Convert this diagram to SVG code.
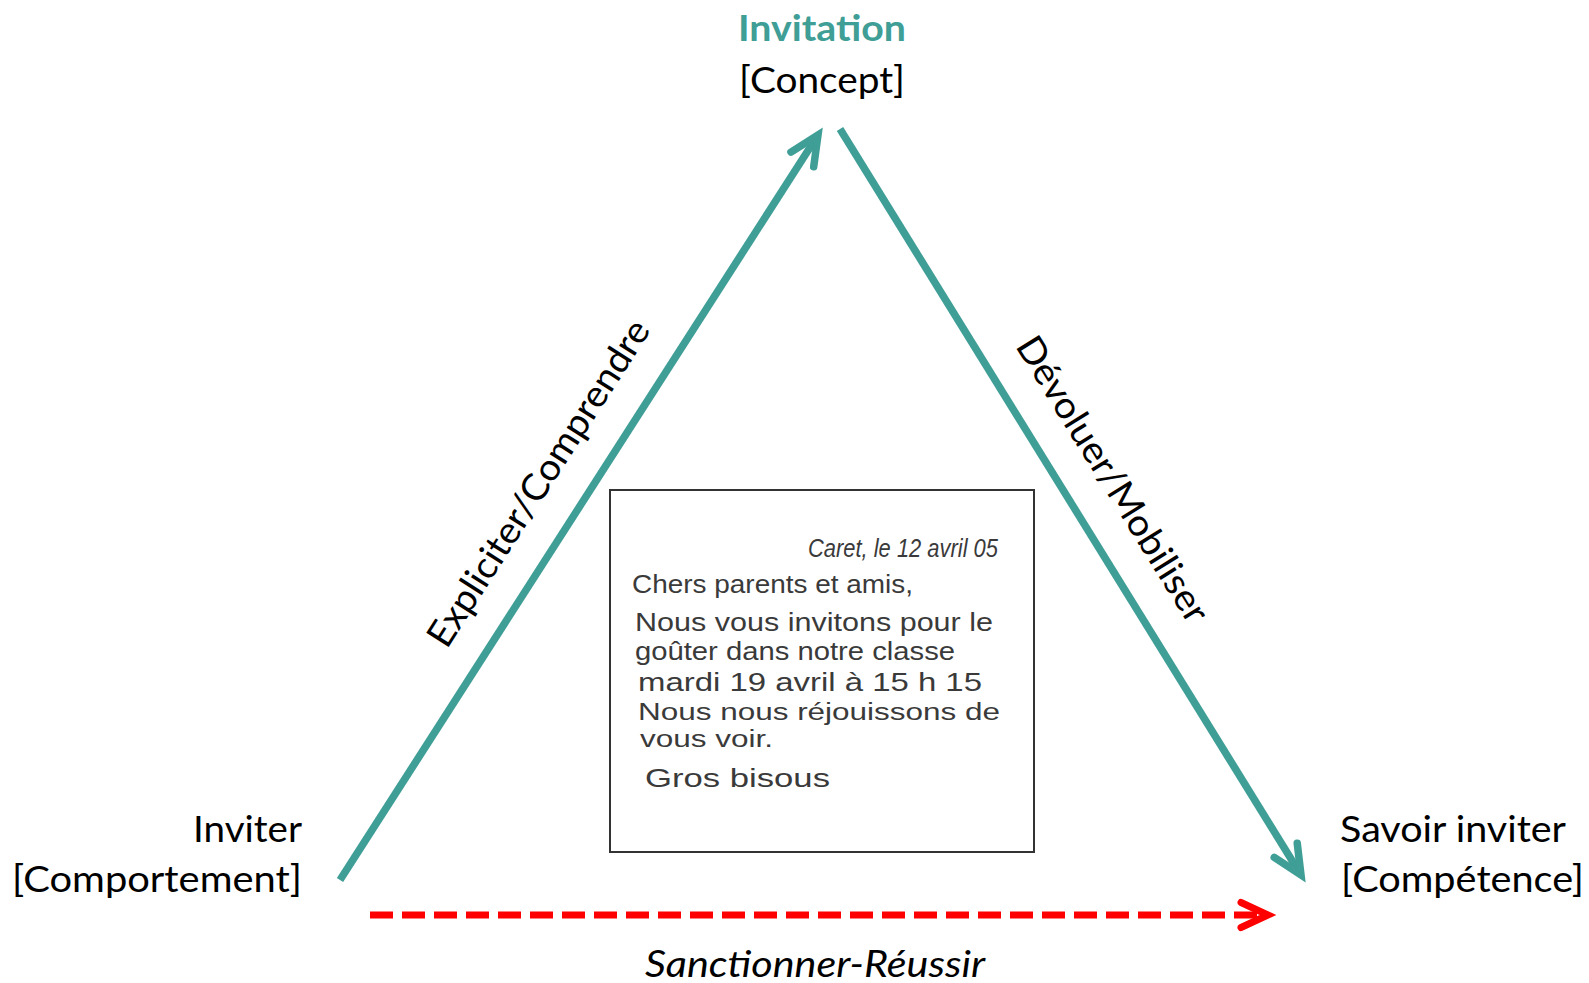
<svg xmlns="http://www.w3.org/2000/svg" width="1589" height="983" viewBox="0 0 1589 983">
  <style>
    .lbl { font-family: Lato, "Open Sans", "Liberation Sans", sans-serif; font-size: 37px; fill: #000; }
    .title { font-weight: bold; fill: #3F9E96; }
    .it { font-style: italic; }
    .hand { font-family: "Liberation Sans", "DejaVu Sans", sans-serif; font-size: 25px; fill: #3a3a3a; }
    .small { font-size: 23px; }
    .teal { stroke: #3F9E96; stroke-width: 7.5; fill: none; }
    .red { stroke: #FF0000; stroke-width: 7; fill: none; stroke-dasharray: 23 9; }
  </style>
  <defs>
    <marker id="arrowTeal" markerUnits="userSpaceOnUse" orient="auto" refX="0" refY="0" markerWidth="60" markerHeight="60" viewBox="-40 -30 60 60" overflow="visible">
      <path d="M-29,-13.5 L0,0 L-29,13.5" fill="none" stroke="#3F9E96" stroke-width="7.5" stroke-linecap="round" stroke-linejoin="miter"/>
    </marker>
    <marker id="arrowRed" markerUnits="userSpaceOnUse" orient="auto" refX="0" refY="0" markerWidth="60" markerHeight="60" viewBox="-40 -30 60 60" overflow="visible">
      <path d="M-27,-12.5 L0,0 L-27,12.5" fill="none" stroke="#FF0000" stroke-width="7" stroke-linecap="round" stroke-linejoin="miter" stroke-dasharray="none"/>
    </marker>
  </defs>
  <rect width="1589" height="983" fill="#fff"/>

  <g id="connectors">
    <path id="edge-left" class="teal" d="M340,880 L818,135" marker-end="url(#arrowTeal)"/>
    <path id="edge-right" class="teal" d="M840,129 L1301,875" marker-end="url(#arrowTeal)"/>
    <path id="edge-bottom" class="red" d="M370,915 L1268,915" marker-end="url(#arrowRed)"/>
    <text class="lbl" transform="translate(549,490) rotate(-57.4)" text-anchor="middle" textLength="380" lengthAdjust="spacingAndGlyphs">Expliciter/Comprendre</text>
    <text class="lbl" transform="translate(1102,486) rotate(58.1)" text-anchor="middle" textLength="330" lengthAdjust="spacingAndGlyphs">Dévoluer/Mobiliser</text>
    <text class="lbl it" x="815" y="977" text-anchor="middle" textLength="340" lengthAdjust="spacingAndGlyphs">Sanctionner-Réussir</text>
  </g>

  <g id="node-concept">
    <text class="lbl title" x="822" y="41" text-anchor="middle" textLength="168" lengthAdjust="spacingAndGlyphs">Invitation</text>
    <text class="lbl" x="822" y="93" text-anchor="middle" textLength="166" lengthAdjust="spacingAndGlyphs">[Concept]</text>
  </g>

  <g id="node-comportement">
    <text class="lbl" x="302" y="842" text-anchor="end" textLength="109" lengthAdjust="spacingAndGlyphs">Inviter</text>
    <text class="lbl" x="302" y="892" text-anchor="end" textLength="290" lengthAdjust="spacingAndGlyphs">[Comportement]</text>
  </g>

  <g id="node-competence">
    <text class="lbl" x="1340" y="842" textLength="226" lengthAdjust="spacingAndGlyphs">Savoir inviter</text>
    <text class="lbl" x="1341" y="892" textLength="243" lengthAdjust="spacingAndGlyphs">[Compétence]</text>
  </g>

  <g id="node-letter">
    <rect x="610" y="490" width="424" height="362" fill="#fff" stroke="#333" stroke-width="2"/>
    <text class="hand it" x="808" y="557" textLength="190" lengthAdjust="spacingAndGlyphs" fill="#111">Caret, le 12 avril 05</text>
    <text class="hand" x="632" y="593" textLength="281" lengthAdjust="spacingAndGlyphs" fill="#555">Chers parents et amis,</text>
    <text class="hand" x="635" y="631" textLength="358" lengthAdjust="spacingAndGlyphs" fill="#555">Nous vous invitons pour le</text>
    <text class="hand" x="635" y="660" textLength="320" lengthAdjust="spacingAndGlyphs" fill="#444">goûter dans notre classe</text>
    <text class="hand" x="638" y="691" textLength="344" lengthAdjust="spacingAndGlyphs" fill="#444">mardi 19 avril à 15 h 15</text>
    <text class="hand small" x="638" y="720" textLength="362" lengthAdjust="spacingAndGlyphs" fill="#222">Nous nous réjouissons de</text>
    <text class="hand small" x="640" y="747" textLength="133" lengthAdjust="spacingAndGlyphs" fill="#333">vous voir.</text>
    <text class="hand" x="645" y="787" textLength="185" lengthAdjust="spacingAndGlyphs" fill="#333">Gros bisous</text>
  </g>
</svg>
